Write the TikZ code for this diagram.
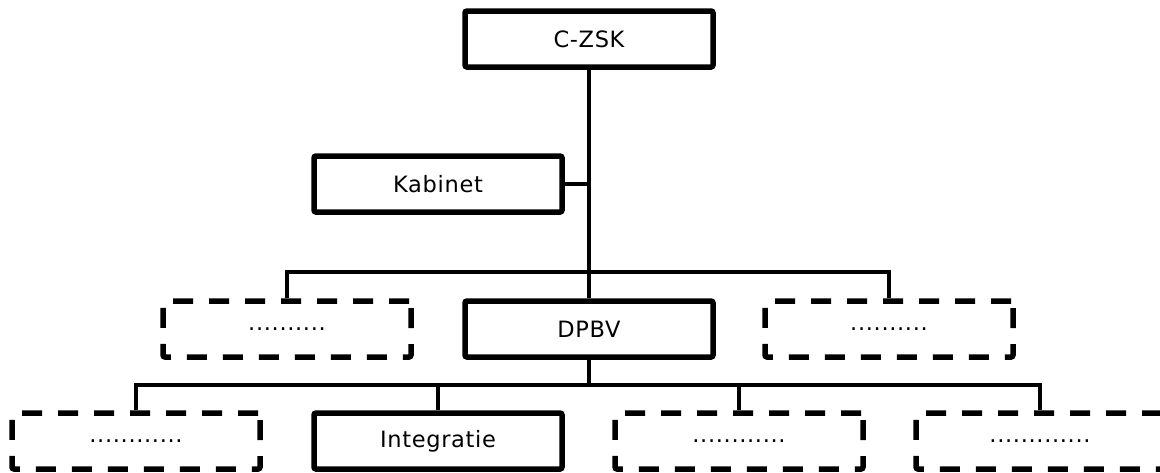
\documentclass[tikz,border=0pt]{standalone}
\usepackage{fontspec}
\setmainfont{DejaVu Sans}[LetterSpace=3]
\begin{document}
\begin{tikzpicture}[x=1pt,y=-1pt,
  solidbox/.style={draw=black,line width=5.5pt,rounded corners=2pt,minimum width=248pt,minimum height=56pt,inner sep=0pt,font=\fontsize{22.5}{26}\selectfont},
  dashbox/.style={solidbox,dash pattern=on 20pt off 16pt},
  conn/.style={line width=4.8pt}]
\useasboundingbox (0,0) rectangle (1160,472);
\clip (0,0) rectangle (1160,472);
\node[solidbox] (czsk) at (589,39) {C-ZSK};
\node[solidbox] (kab) at (438,184) {Kabinet};
\node[solidbox] (dpbv) at (589,329) {DPBV};
\node[dashbox] (tl) at (287,329) {..........};
\node[dashbox] (tr) at (889,329) {..........};
\node[dashbox] (b1) at (136,441) {............};
\node[solidbox] (b2) at (438,441) {Integratie};
\node[dashbox] (b3) at (739,441) {............};
\node[dashbox] (b4) at (1040,441) {.............};
\coordinate (bar1) at (589,272);
\coordinate (bar2) at (589,385);
\draw[conn] (czsk.south) -- (dpbv.north);
\draw[conn] (kab.east) -- (kab.east -| czsk.south);
\draw[conn] (tl.north) |- (bar1) -| (tr.north);
\draw[conn] (dpbv.south) -- (bar2);
\draw[conn] (b1.north) |- (bar2) -| (b4.north);
\draw[conn] (b2.north) -- (b2.north |- bar2);
\draw[conn] (b3.north) -- (b3.north |- bar2);
\end{tikzpicture}
\end{document}
